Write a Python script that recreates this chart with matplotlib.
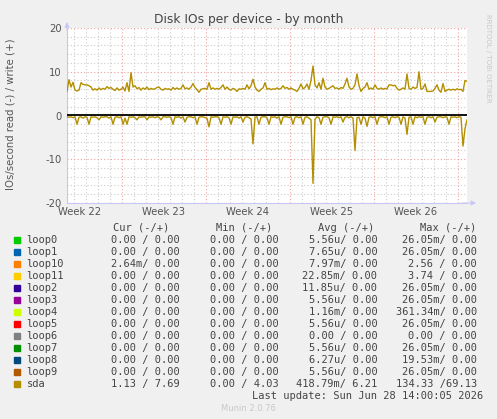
import matplotlib.pyplot as plt
from matplotlib.patches import Rectangle

# ---- data ----
# sda write (+) and read (-) rates, one value every 4 hours (IOs/second)
sda_write = [
    5.5, 8.2, 6.5, 7.6, 5.8, 5.6, 5.8, 7.5, 7.1, 7.0,
    7.0, 6.8, 6.5, 5.8, 6.1, 5.8, 6.3, 5.9, 6.2, 6.0,
    6.6, 6.2, 6.4, 6.0, 5.7, 6.3, 5.8, 6.0, 6.5, 5.6,
    7.5, 5.5, 9.8, 6.5, 6.8, 6.1, 6.4, 5.8, 6.3, 6.0,
    6.5, 5.9, 6.2, 6.0, 6.1, 6.4, 6.5, 6.0, 5.8, 6.2,
    6.0, 6.1, 5.8, 6.4, 6.0, 6.3, 6.0, 6.2, 7.0, 6.1,
    6.3, 6.0, 6.5, 7.3, 6.4, 5.9, 5.3, 6.0, 6.1, 6.2,
    6.0, 7.5, 6.0, 6.3, 6.0, 6.2, 6.0, 6.4, 7.0, 6.0,
    6.5, 6.0, 5.8, 6.2, 6.0, 5.5, 6.1, 6.0, 6.2, 6.0,
    7.0, 6.1, 6.8, 8.3, 6.5, 5.8, 5.5, 6.0, 6.3, 7.5,
    6.0, 6.2, 5.9, 6.1, 6.0, 6.3, 6.0, 6.2, 6.8, 6.2,
    6.4, 6.0, 6.3, 6.0, 5.8, 5.5, 6.2, 7.2, 6.1, 6.4,
    7.2, 6.0, 8.0, 11.3, 7.0, 6.3, 7.5, 6.0, 8.5, 6.5,
    6.0, 6.2, 6.5, 6.8, 6.2, 6.3, 6.0, 6.4, 6.2, 7.2,
    8.5, 6.5, 6.0, 6.2, 7.0, 9.5, 6.8, 5.5, 6.2, 6.5,
    7.5, 6.0, 6.3, 6.0, 7.0, 6.2, 6.0, 6.3, 6.0, 6.2,
    6.1, 7.0, 7.0, 6.8, 6.9, 6.2, 5.8, 6.0, 6.3, 6.0,
    9.5, 6.2, 6.0, 6.5, 6.2, 6.4, 10.0, 6.0, 6.2, 7.2,
    5.5, 5.5, 5.5, 5.6, 6.2, 7.0, 5.8, 5.3, 7.3, 5.5,
    5.8, 6.0, 5.8, 6.0, 5.8, 6.1, 5.9, 6.0, 5.5, 8.0,
    7.8,
]
sda_read = [
    -0.3, -0.4, -0.3, -0.5, -0.3, -2.0, -0.4, -0.3, -0.6, -0.3,
    -0.4, -2.0, -0.3, -0.4, -0.3, -0.5, -1.0, -0.3, -0.4, -0.3,
    -0.3, -0.6, -0.3, -2.0, -0.4, -0.3, -0.5, -0.3, -2.0, -0.6,
    -2.0, -0.3, -0.4, -0.3, -0.5, -1.0, -0.3, -0.4, -0.3, -0.3,
    -1.0, -0.3, -0.4, -0.3, -0.5, -0.3, -0.4, -1.0, -0.3, -0.3,
    -0.4, -0.3, -0.5, -2.0, -0.3, -0.4, -0.3, -0.6, -0.3, -1.5,
    -0.4, -0.3, -0.3, -0.5, -0.3, -2.0, -0.4, -0.3, -0.3, -0.5,
    -0.6, -2.6, -0.3, -0.4, -0.3, -0.3, -0.5, -2.0, -0.3, -0.4,
    -0.3, -0.5, -2.0, -0.3, -0.4, -0.3, -0.6, -0.3, -1.5, -0.4,
    -0.3, -0.5, -0.8, -6.5, -0.4, -0.3, -2.0, -0.4, -0.3, -0.3,
    -0.5, -2.0, -0.3, -0.4, -0.3, -0.6, -0.3, -2.0, -0.4, -0.3,
    -0.3, -0.5, -0.3, -2.0, -0.4, -0.3, -0.5, -0.3, -2.0, -0.4,
    -0.3, -0.6, -1.0, -15.5, -0.8, -0.3, -0.5, -2.0, -0.4, -0.3,
    -0.3, -0.5, -2.0, -0.3, -0.4, -0.3, -0.5, -0.3, -1.5, -0.4,
    -0.3, -0.5, -0.3, -0.6, -8.0, -0.5, -0.4, -2.0, -0.3, -0.6,
    -2.5, -0.4, -0.3, -0.5, -0.3, -2.0, -0.4, -0.3, -0.3, -0.5,
    -0.3, -2.0, -0.4, -0.3, -0.5, -0.3, -0.4, -2.0, -0.3, -0.6,
    -4.3, -0.4, -0.3, -2.0, -0.3, -0.5, -0.3, -0.4, -0.3, -2.0,
    -0.4, -0.3, -0.5, -0.3, -1.5, -0.4, -0.3, -0.3, -0.5, -0.3,
    -0.4, -2.0, -0.3, -0.4, -0.3, -0.5, -0.3, -0.4, -7.0, -3.0,
    -1.0,
]
step_days = 4 / 24
span_days = 400 / 12
first_monday = 55 / 12  # offset of the first week boundary in the window

week_labels = ["Week 22", "Week 23", "Week 24", "Week 25", "Week 26"]
y_ticks = [-20, -10, 0, 10, 20]

devices = ["loop0", "loop1", "loop10", "loop11", "loop2", "loop3", "loop4",
           "loop5", "loop6", "loop7", "loop8", "loop9", "sda"]
colors = ["#00CC00", "#0066B3", "#FF8000", "#FFCC00", "#330099", "#990099",
          "#CCFF00", "#FF0000", "#808080", "#008F00", "#00487D", "#B35A00",
          "#B38F00"]
cur_col = ["0.00 / 0.00"] * 2 + ["2.64m/ 0.00"] + ["0.00 / 0.00"] * 9 + ["1.13 / 7.69"]
min_col = ["0.00 / 0.00"] * 12 + ["0.00 / 4.03"]
avg_col = ["5.56u/ 0.00", "7.65u/ 0.00", "7.97m/ 0.00", "22.85m/ 0.00",
           "11.85u/ 0.00", "5.56u/ 0.00", "1.16m/ 0.00", "5.56u/ 0.00",
           "0.00 / 0.00", "5.56u/ 0.00", "6.27u/ 0.00", "5.56u/ 0.00",
           "418.79m/ 6.21"]
max_col = ["26.05m/ 0.00", "26.05m/ 0.00", "2.56 / 0.00", "3.74 / 0.00",
           "26.05m/ 0.00", "26.05m/ 0.00", "361.34m/ 0.00", "26.05m/ 0.00",
           "0.00 / 0.00", "26.05m/ 0.00", "19.53m/ 0.00", "26.05m/ 0.00",
           "134.33 /69.13"]


def main() -> None:
    W, H = 497, 419
    fig = plt.figure(figsize=(W / 100, H / 100), dpi=100, facecolor="#F0F0F0")

    # plot box in pixels: x 67..467, y 28..203
    ax = fig.add_axes([67 / W, 1 - 203 / H, 400 / W, 175 / H])
    ax.set_facecolor("white")

    t = [i * step_days for i in range(len(sda_write))]

    # grid
    dotted = (0, (1, 2))
    d = first_monday - 4
    while d < span_days:
        major = abs(((d - first_monday) / 7) - round((d - first_monday) / 7)) < 1e-6
        ax.axvline(d, color="#F0A0A0" if major else "#CCCCCC",
                   lw=0.8, ls=dotted, zorder=0)
        d += 1
    for v in range(-20, 21, 2):
        ax.axhline(v, color="#F0A0A0" if v % 10 == 0 else "#CCCCCC",
                   lw=0.8, ls=dotted, zorder=0)

    ax.plot(t, sda_write, color=colors[-1], lw=1.0, zorder=3)
    ax.plot(t, sda_read, color=colors[-1], lw=1.0, zorder=3)
    ax.axhline(0, color="black", lw=1.3, zorder=4)

    ax.set_xlim(0, span_days)
    ax.set_ylim(-20, 20)
    ax.set_yticks(y_ticks)
    ax.set_yticklabels([str(v) for v in y_ticks])
    ax.set_xticks([first_monday - 3.5 + 7 * k for k in range(len(week_labels))])
    ax.set_xticklabels(week_labels)
    ax.tick_params(length=0, labelsize=7.2, colors="#555555", pad=4)
    ax.tick_params(axis="x", pad=3)

    for s in ["top", "right"]:
        ax.spines[s].set_visible(False)
    for s in ["left", "bottom"]:
        ax.spines[s].set_color("#C8C8F8")
        ax.spines[s].set_linewidth(0.8)
    ax.annotate("", xy=(0, 1.05), xytext=(0, 0.97), xycoords="axes fraction",
                arrowprops=dict(arrowstyle="-|>", color="#C8C8F8", lw=0.8,
                                mutation_scale=7), annotation_clip=False)
    ax.annotate("", xy=(1.03, 0), xytext=(0.98, 0), xycoords="axes fraction",
                arrowprops=dict(arrowstyle="-|>", color="#C8C8F8", lw=0.8,
                                mutation_scale=7), annotation_clip=False)

    fig.text(249 / W, 1 - 19 / H, "Disk IOs per device - by month",
             ha="center", va="center", fontsize=8.8, color="#444444")
    fig.text(11 / W, 1 - 114 / H, "IOs/second read (-) / write (+)",
             rotation=90, ha="center", va="center", fontsize=7.3, color="#555555")
    fig.text(488 / W, 1 - 58 / H, "RRDTOOL / TOBI OETIKER", rotation=270,
             ha="center", va="center", fontsize=5, color="#C8C8C8")

    # legend table
    mono = dict(family="DejaVu Sans Mono", fontsize=7.5, color="#444444", va="center")
    hdr_y = 227.5
    for xr, lab in [(169, "Cur (-/+)"), (272, "Min (-/+)"), (374.5, "Avg (-/+)"), (476.5, "Max (-/+)")]:
        fig.text(xr / W, 1 - hdr_y / H, lab, ha="right", **mono)
    for k, name in enumerate(devices):
        y = 239.7 + 12 * k
        fig.add_artist(Rectangle((14 / W, 1 - (y + 3) / H), 6 / W, 6 / H,
                                 transform=fig.transFigure, color=colors[k]))
        fig.text(26.5 / W, 1 - y / H, name, ha="left", **mono)
        fig.text(179.5 / W, 1 - y / H, cur_col[k], ha="right", **mono)
        fig.text(278.5 / W, 1 - y / H, min_col[k], ha="right", **mono)
        fig.text(377.5 / W, 1 - y / H, avg_col[k], ha="right", **mono)
        fig.text(477 / W, 1 - y / H, max_col[k], ha="right", **mono)
    fig.text(483 / W, 1 - 395.7 / H, "Last update: Sun Jun 28 14:00:05 2026",
             ha="right", **mono)
    fig.text(248 / W, 1 - 408 / H, "Munin 2.0.76", ha="center", va="center",
             fontsize=6, color="#C8C8C8")

    fig.savefig("out.png", dpi=100, facecolor=fig.get_facecolor())


if __name__ == "__main__":
    main()
